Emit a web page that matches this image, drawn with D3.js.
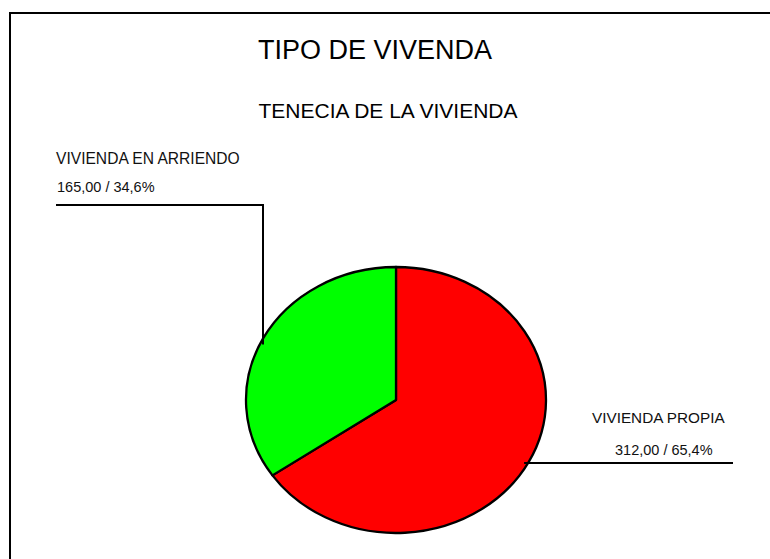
<!DOCTYPE html>
<html><head><meta charset="utf-8">
<script src="https://cdn.jsdelivr.net/npm/d3@7"></script>
<style>html,body{margin:0;padding:0;background:#fff;}svg{display:block;}</style>
</head><body>
<svg id="chart" width="770" height="559"></svg>
<script>
const title = "TIPO DE VIVENDA";
const subtitle = "TENECIA DE LA VIVIENDA";
const categories = ["VIVIENDA PROPIA", "VIVIENDA EN ARRIENDO"];
const values = [312, 165];
const percentLabels = ["65,4%", "34,6%"];
const valueLabels = ["312,00", "165,00"];
const colors = ["#ff0000", "#00ff00"];

const svg = d3.select("#chart");
const font = "'Liberation Sans', Arial, sans-serif";

// frame (left and top edges visible)
svg.append("rect").attr("x", 10).attr("y", 13).attr("width", 800).attr("height", 600)
  .attr("fill", "none").attr("stroke", "#000").attr("stroke-width", 2);

svg.append("text").attr("x", 375).attr("y", 59).attr("text-anchor", "middle")
  .attr("font-family", font).attr("font-size", 27).attr("fill", "#000").text(title);
svg.append("text").attr("x", 388).attr("y", 118).attr("text-anchor", "middle")
  .attr("font-family", font).attr("font-size", 21).attr("fill", "#000").text(subtitle);

const cx = 396, cy = 400, rx = 150, ry = 133;
const pie = d3.pie().sort(null).value(d => d)(values);
const arc = d3.arc().innerRadius(0).outerRadius(ry);

const g = svg.append("g").attr("transform", `translate(${cx},${cy}) scale(${rx/ry},1)`);
g.selectAll("path").data(pie).join("path")
  .attr("d", arc)
  .attr("fill", (d, i) => colors[i])
  .attr("stroke", "#000").attr("stroke-width", 2.3)
  .attr("stroke-linejoin", "round")
  .attr("vector-effect", "non-scaling-stroke");

const line = d3.line();
// green (arriendo) label, upper left
const leftX = 263;
const leftEdgeY = cy - ry * Math.sqrt(1 - Math.pow((leftX - cx) / rx, 2));
svg.append("path").attr("d", line([[56, 205], [leftX, 205], [leftX, leftEdgeY + 6]]))
  .attr("fill", "none").attr("stroke", "#000").attr("stroke-width", 2);
svg.append("text").attr("x", 56).attr("y", 164).attr("font-family", font).attr("font-size", 15.6)
  .attr("fill", "#111").text(categories[1]);
svg.append("text").attr("x", 57).attr("y", 192).attr("font-family", font).attr("font-size", 14.5)
  .attr("fill", "#111").text(valueLabels[1] + " / " + percentLabels[1]);

// red (propia) label, lower right
const rightY = 463;
const rightEdgeX = cx + rx * Math.sqrt(1 - Math.pow((rightY - cy) / ry, 2));
svg.append("path").attr("d", line([[rightEdgeX - 4, rightY], [733, rightY]]))
  .attr("fill", "none").attr("stroke", "#000").attr("stroke-width", 2);
svg.append("text").attr("x", 592).attr("y", 423).attr("font-family", font).attr("font-size", 15.3)
  .attr("fill", "#111").text(categories[0]);
svg.append("text").attr("x", 615).attr("y", 455).attr("font-family", font).attr("font-size", 14.5)
  .attr("fill", "#111").text(valueLabels[0] + " / " + percentLabels[0]);
</script>
</body></html>
